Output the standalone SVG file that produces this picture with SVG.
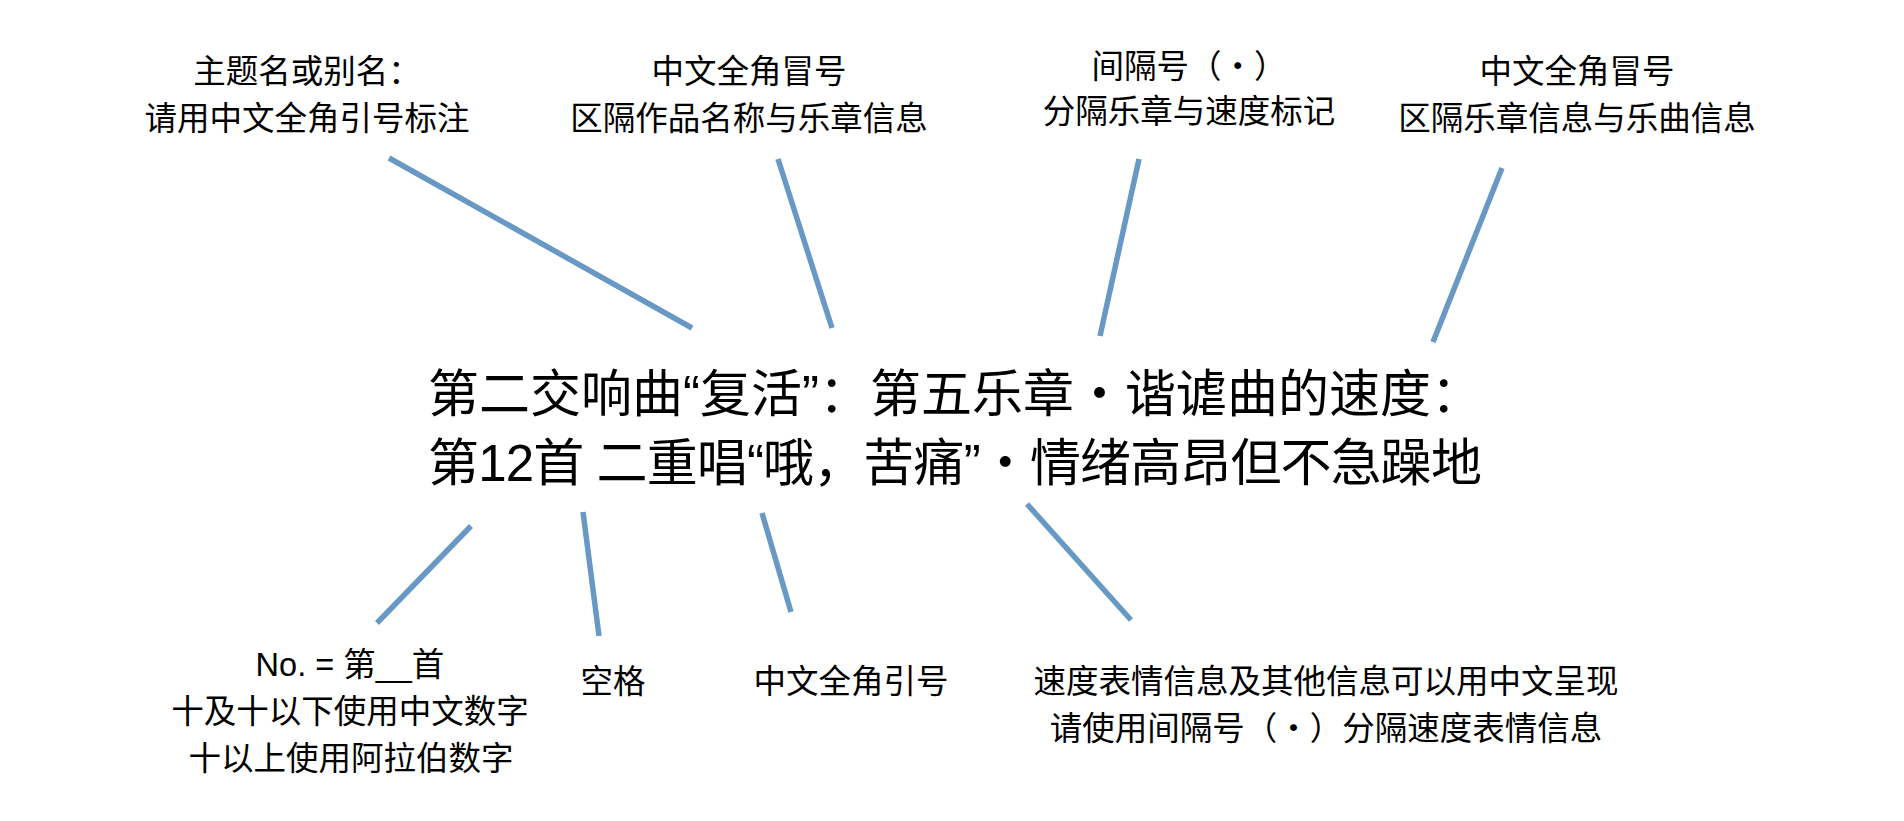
<svg xmlns="http://www.w3.org/2000/svg" width="1904" height="821" viewBox="0 0 1904 821">
  <style>
    text { font-family: "Liberation Sans", "Noto Sans CJK SC", sans-serif; fill: #000000; }
    .main { font-size: 51px; }
    .lbl { font-size: 32.5px; text-anchor: middle; }
    .dot { font-family: "Noto Sans CJK SC", sans-serif; }
    .conn line { stroke: #6898c4; stroke-width: 5.5; stroke-linecap: butt; fill: none; }
  </style>
  <rect x="0" y="0" width="1904" height="821" fill="#ffffff"/>

  <g id="connectors" class="conn">
    <line x1="389" y1="158" x2="692" y2="328"/>
    <line x1="778" y1="159" x2="832" y2="328"/>
    <line x1="1139" y1="159" x2="1100" y2="336"/>
    <line x1="1502" y1="168" x2="1433" y2="342"/>
    <line x1="471" y1="526" x2="377" y2="623"/>
    <line x1="583" y1="512" x2="599" y2="636"/>
    <line x1="762" y1="513" x2="791" y2="612"/>
    <line x1="1027" y1="504" x2="1131" y2="620"/>
  </g>

  <g id="main-title">
    <text class="main" x="428" y="412">第二交响曲“复活”：第五乐章<tspan class="dot">·</tspan>谐谑曲的速度：</text>
    <text class="main" x="428" y="481" textLength="1054" lengthAdjust="spacing">第12首 二重唱“哦，苦痛”<tspan class="dot">·</tspan>情绪高昂但不急躁地</text>
  </g>

  <g id="label-theme">
    <text class="lbl" x="307" y="83">主题名或别名：</text>
    <text class="lbl" x="307" y="130">请用中文全角引号标注</text>
  </g>
  <g id="label-colon-1">
    <text class="lbl" x="749" y="83">中文全角冒号</text>
    <text class="lbl" x="749" y="130">区隔作品名称与乐章信息</text>
  </g>
  <g id="label-dot">
    <text class="lbl" x="1189" y="78">间隔号（<tspan class="dot">·</tspan>）</text>
    <text class="lbl" x="1189" y="123">分隔乐章与速度标记</text>
  </g>
  <g id="label-colon-2">
    <text class="lbl" x="1577" y="83">中文全角冒号</text>
    <text class="lbl" x="1577" y="130">区隔乐章信息与乐曲信息</text>
  </g>

  <g id="label-number">
    <text class="lbl" x="350" y="676">No. = 第__首</text>
    <text class="lbl" x="350" y="723">十及十以下使用中文数字</text>
    <text class="lbl" x="351" y="770">十以上使用阿拉伯数字</text>
  </g>
  <g id="label-space">
    <text class="lbl" x="613" y="693">空格</text>
  </g>
  <g id="label-quotes">
    <text class="lbl" x="851" y="693">中文全角引号</text>
  </g>
  <g id="label-tempo">
    <text class="lbl" x="1326" y="693">速度表情信息及其他信息可以用中文呈现</text>
    <text class="lbl" x="1326" y="740">请使用间隔号（<tspan class="dot">·</tspan>）分隔速度表情信息</text>
  </g>
</svg>
